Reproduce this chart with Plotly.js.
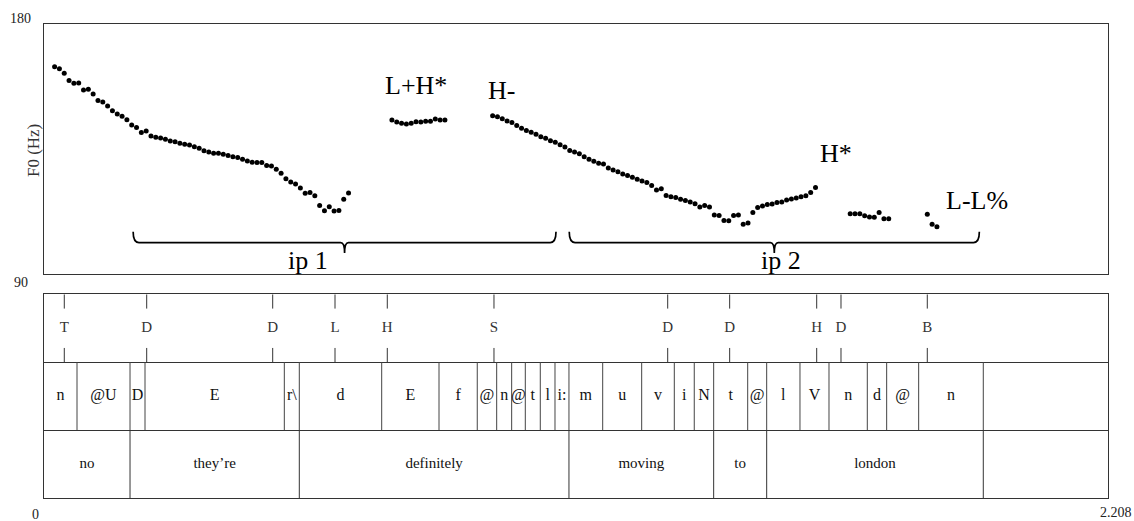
<!DOCTYPE html>
<html>
<head>
<meta charset="utf-8">
<script src="https://cdn.plot.ly/plotly-3.0.1.min.js"></script>
<style>html,body{margin:0;padding:0;background:#fff;}#chart{width:1134px;height:521px;}</style>
</head>
<body>
<div id="chart"></div>
<script>
// ---------- F0 contour (Hz) by segment ----------
const seg1T = [0.022,0.032,0.042,0.052,0.062,0.072,0.082,0.092,0.102,0.112,0.122,0.132,0.142,0.152,0.162,0.172,0.182,0.192,0.202,0.212,0.222,0.232,0.242,0.252,0.262,0.272,0.282,0.292,0.302,0.312,0.322,0.332,0.342,0.352,0.362,0.372,0.382,0.392,0.402,0.412,0.422,0.432,0.442,0.452,0.462,0.472,0.482,0.492,0.502,0.512,0.522,0.532,0.542,0.552,0.562,0.572,0.582,0.592,0.602,0.612,0.622,0.632];
const seg1F = [164.6,163.9,162.3,159.7,158.7,158.8,156.2,156.5,154.8,152.5,151.9,150.5,148.8,147.6,146.8,145.5,143.6,142.7,140.9,141.5,139.7,139.2,139.0,138.5,137.9,137.6,137.1,136.7,136.4,135.8,135.3,134.4,133.9,133.5,133.5,133.1,132.7,132.2,131.9,131.3,130.7,130.2,130.1,130.1,129.1,128.9,127.7,126.3,124.3,123.1,122.4,121.0,119.1,119.3,118.2,114.7,112.8,114.2,112.7,112.9,116.9,119.2];
const seg2T = [0.722,0.732,0.742,0.752,0.762,0.772,0.782,0.792,0.802,0.812,0.822,0.832];
const seg2F = [145.4,144.7,144.3,144.0,144.3,144.8,144.7,145.0,145.0,145.8,145.4,145.4];
const seg3T = [0.931,0.941,0.951,0.961,0.971,0.981,0.991,1.001,1.011,1.021,1.031,1.041,1.051,1.061,1.071,1.081,1.091,1.101,1.111,1.121,1.131,1.141,1.151,1.161,1.171,1.181,1.191,1.201,1.211,1.221,1.231,1.241,1.251,1.261,1.271,1.281,1.291,1.301,1.311,1.321,1.331,1.341,1.351,1.361,1.371,1.381,1.391,1.401,1.411,1.421,1.431,1.441,1.451,1.461,1.471,1.481,1.491,1.501,1.511,1.521,1.531,1.541,1.551,1.561,1.571,1.581,1.591,1.601];
const seg3F = [147.0,146.6,145.9,145.1,144.5,143.5,142.5,141.7,141.0,140.3,139.4,138.9,138.0,137.4,136.5,135.7,134.5,133.9,133.3,132.2,131.3,130.6,129.9,129.6,128.2,127.4,126.8,126.0,125.5,124.8,124.1,123.5,122.9,121.9,120.2,120.7,118.3,117.8,117.5,116.9,116.5,115.9,115.3,114.1,114.7,114.1,111.2,111.1,109.3,109.2,111.1,111.2,107.9,108.4,112.1,113.9,114.5,115.0,115.2,115.7,115.9,116.6,117.0,117.4,117.8,118.2,119.3,121.1];
const seg4T = [1.673,1.683,1.693,1.703,1.713,1.723,1.733,1.743,1.753];
const seg4F = [111.7,111.7,111.7,111.0,110.5,110.4,112.1,109.9,109.9];
const seg5T = [1.833,1.843,1.853];
const seg5F = [111.5,107.9,107.0];

// ---------- ToBI accent labels ----------
const accentLabels = ["L+H*","H-","H*","L-L%"];
const accentT = [0.771,0.950,1.643,1.936];
const accentF = [158.0,156.1,133.2,116.6];

// ---------- intermediate phrases ----------
const phraseLabels = ["ip 1","ip 2"];
const phraseStart = [0.185,1.090];
const phraseEnd = [1.0625,1.941];
const phraseLabelT = [0.548,1.529];

// ---------- tiers ----------
const totalDur = 2.208;
const toneLabels = ["T","D","D","L","H","S","D","D","H","D","B"];
const toneT = [0.0421,0.2131,0.4746,0.6039,0.7124,0.9338,1.2943,1.4229,1.6035,1.6539,1.8330];

const phoneLabels = ["n","@U","D","E","r\\","d","E","f","@","n","@","t","l","i:","m","u","v","i","N","t","@","l","V","n","d","@","n",""];
const phoneStart = [0,0.0685,0.1785,0.2096,0.4987,0.5298,0.7008,0.8197,0.8991,0.9394,0.9705,0.9988,1.0299,1.0604,1.0894,1.1594,1.2403,1.3080,1.3494,1.3897,1.4603,1.4997,1.5688,1.6290,1.7085,1.7487,1.8151,1.9492];

const wordLabels = ["no","they\u2019re","definitely","moving","to","london",""];
const wordStart = [0,0.1785,0.5298,1.0894,1.3897,1.4997,1.9492];

// ---------- build ----------
const serif = "Liberation Serif, Times New Roman, serif";
const f0T = [].concat(seg1T,[null],seg2T,[null],seg3T,[null],seg4T,[null],seg5T);
const f0F = [].concat(seg1F,[null],seg2F,[null],seg3F,[null],seg4F,[null],seg5F);

function ends(starts){ return starts.map((s,i)=> i<starts.length-1 ? starts[i+1] : totalDur); }
function mids(starts){ const e=ends(starts); return starts.map((s,i)=>(s+e[i])/2); }
function bounds(starts,y0,y1){ const x=[],y=[]; starts.slice(1).forEach(s=>{x.push(s,s,null);y.push(y0,y1,null);}); return {x,y}; }

const pb = bounds(phoneStart,1,2);
const wb = bounds(wordStart,0,1);
const tx=[],ty=[];
toneT.forEach(t=>{tx.push(t,t,null,t,t,null);ty.push(3,2.79,null,2.21,2,null);});

const traces = [
  {x:f0T,y:f0F,mode:'markers',type:'scatter',xaxis:'x',yaxis:'y',marker:{color:'#000',size:5},hoverinfo:'skip',connectgaps:false},
  {x:pb.x,y:pb.y,mode:'lines',xaxis:'x2',yaxis:'y2',line:{color:'#444',width:1},hoverinfo:'skip'},
  {x:wb.x,y:wb.y,mode:'lines',xaxis:'x2',yaxis:'y2',line:{color:'#333',width:1},hoverinfo:'skip'},
  {x:tx,y:ty,mode:'lines',xaxis:'x2',yaxis:'y2',line:{color:'#333',width:1},hoverinfo:'skip'},
  {x:toneT,y:toneT.map(()=>2.5),text:toneLabels,mode:'text',xaxis:'x2',yaxis:'y2',textfont:{family:serif,size:15,color:'#333'},hoverinfo:'skip'},
  {x:mids(phoneStart),y:phoneStart.map(()=>1.5),text:phoneLabels,mode:'text',xaxis:'x2',yaxis:'y2',textfont:{family:serif,size:16,color:'#111'},hoverinfo:'skip'},
  {x:mids(wordStart),y:wordStart.map(()=>0.5),text:wordLabels,mode:'text',xaxis:'x2',yaxis:'y2',textfont:{family:serif,size:15,color:'#111'},hoverinfo:'skip'}
];

const yTop=105.2, yH=101.3, yTick=97.6, dx=0.012, dc=0.008;
const shapes = phraseStart.map((s,i)=>{
  const e=phraseEnd[i], c=(s+e)/2;
  const p = `M ${s},${yTop} Q ${s},${yH} ${s+dx},${yH} L ${c-dc},${yH} Q ${c},${yH} ${c},${yTick} Q ${c},${yH} ${c+dc},${yH} L ${e-dx},${yH} Q ${e},${yH} ${e},${yTop}`;
  return {type:'path',xref:'x',yref:'y',path:p,line:{color:'#000',width:1.7}};
});

const annotations = [];
accentLabels.forEach((l,i)=>annotations.push({x:accentT[i],y:accentF[i],xref:'x',yref:'y',text:l,showarrow:false,font:{family:serif,size:26,color:'#000'}}));
phraseLabels.forEach((l,i)=>annotations.push({x:phraseLabelT[i],y:95.0,xref:'x',yref:'y',text:l,showarrow:false,font:{family:serif,size:26,color:'#000'}}));
annotations.push({x:0,y:180,xref:'x',yref:'y',text:'180',showarrow:false,xanchor:'center',yanchor:'middle',xshift:-23.5,yshift:6,font:{family:serif,size:14,color:'#222'}});
annotations.push({x:0,y:90,xref:'x',yref:'y',text:'90',showarrow:false,xanchor:'center',yanchor:'middle',xshift:-23,yshift:-9,font:{family:serif,size:14,color:'#222'}});
annotations.push({x:0,y:0,xref:'x2',yref:'paper',text:'0',showarrow:false,xanchor:'center',yanchor:'middle',xshift:-9,yshift:-16,font:{family:serif,size:14,color:'#222'}});
annotations.push({x:totalDur,y:0,xref:'x2',yref:'paper',text:'2.208',showarrow:false,xanchor:'right',yanchor:'middle',xshift:26,yshift:-14,font:{family:serif,size:14,color:'#222'}});
annotations.push({x:-0.0103,y:0.732,xref:'paper',yref:'paper',text:'F0 (Hz)',textangle:-90,showarrow:false,xanchor:'center',yanchor:'middle',font:{family:serif,size:17,color:'#333'}});

const axBase = {showgrid:false,zeroline:false,showticklabels:false,ticks:'',showline:true,mirror:true,linecolor:'#333',linewidth:1,fixedrange:true};
const layout = {
  width:1134,height:521,margin:{l:44,r:26,t:24,b:23},
  paper_bgcolor:'#fff',plot_bgcolor:'#fff',showlegend:false,
  xaxis:Object.assign({},axBase,{range:[0,totalDur],domain:[0,1],anchor:'y'}),
  yaxis:Object.assign({},axBase,{range:[90,180],domain:[0.4726,1],anchor:'x'}),
  xaxis2:Object.assign({},axBase,{range:[0,totalDur],domain:[0,1],anchor:'y2'}),
  yaxis2:Object.assign({},axBase,{range:[0,3],domain:[0,0.4297],anchor:'x2',showgrid:true,gridcolor:'#333',gridwidth:1,tickmode:'array',tickvals:[1,2]}),
  shapes:shapes,annotations:annotations
};
Plotly.newPlot('chart',traces,layout,{staticPlot:true,displayModeBar:false});
</script>
</body>
</html>
